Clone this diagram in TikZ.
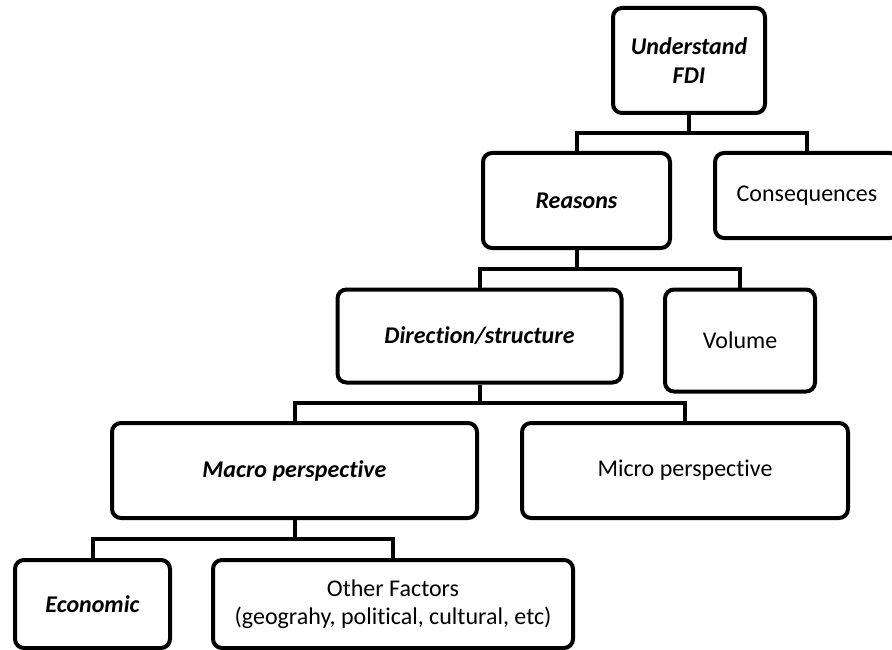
\documentclass[tikz,border=0pt]{standalone}
\usepackage{fontspec}
\setmainfont{Carlito}[Ligatures=NoCommon]
\usepackage{tikz}
\usetikzlibrary{positioning}

\begin{document}
\begin{tikzpicture}[
 x=1pt,y=-1pt,
 box/.style={draw,line width=4pt,rounded corners=9pt,align=center,
              inner sep=0pt,font=\fontsize{24}{28.5}\selectfont},
 key/.style={box,font=\fontsize{24}{28.5}\selectfont\bfseries\itshape},
 link/.style={line width=4pt,line join=miter}
]
\useasboundingbox (0,0) rectangle (892,650);
\node[key,minimum width=152pt,minimum height=105pt] (fdi) at (689,60.5) {Understand\\FDI};
\node[key,minimum width=187pt,minimum height=95pt] (reasons) at (576.5,200.5) {Reasons};
\node[box,minimum width=184pt,minimum height=85pt] (cons) at (807,195.5) {Consequences};
\node[key,minimum width=284pt,minimum height=93pt] (direction) at (479.5,336) {Direction/structure};
\node[box,minimum width=150pt,minimum height=102pt] (volume) at (740,340.5) {Volume};
\node[key,minimum width=365pt,minimum height=95pt] (macro) at (294.5,470.5) {Macro perspective};
\node[box,minimum width=326pt,minimum height=95pt] (micro) at (685,470.5) {Micro perspective};
\node[key,minimum width=155pt,minimum height=88pt] (economic) at (92.5,604) {Economic};
\node[box,minimum width=360pt,minimum height=88pt] (other) at (393,604) {Other Factors\\(geograhy, political, cultural, etc)};
\coordinate (bus1) at (689,133);
\coordinate (bus2) at (576.5,269);
\coordinate (bus3) at (479.5,403);
\coordinate (bus4) at (294.5,539);
\draw[link] (fdi.south) -- (bus1);
\draw[link] (reasons.north) |- (bus1) -| (cons.north);
\draw[link] (reasons.south) -- (bus2);
\draw[link] (direction.north) |- (bus2) -| (volume.north);
\draw[link] (direction.south) -- (bus3);
\draw[link] (macro.north) |- (bus3) -| (micro.north);
\draw[link] (macro.south) -- (bus4);
\draw[link] (economic.north) |- (bus4) -| (other.north);
\end{tikzpicture}
\end{document}
